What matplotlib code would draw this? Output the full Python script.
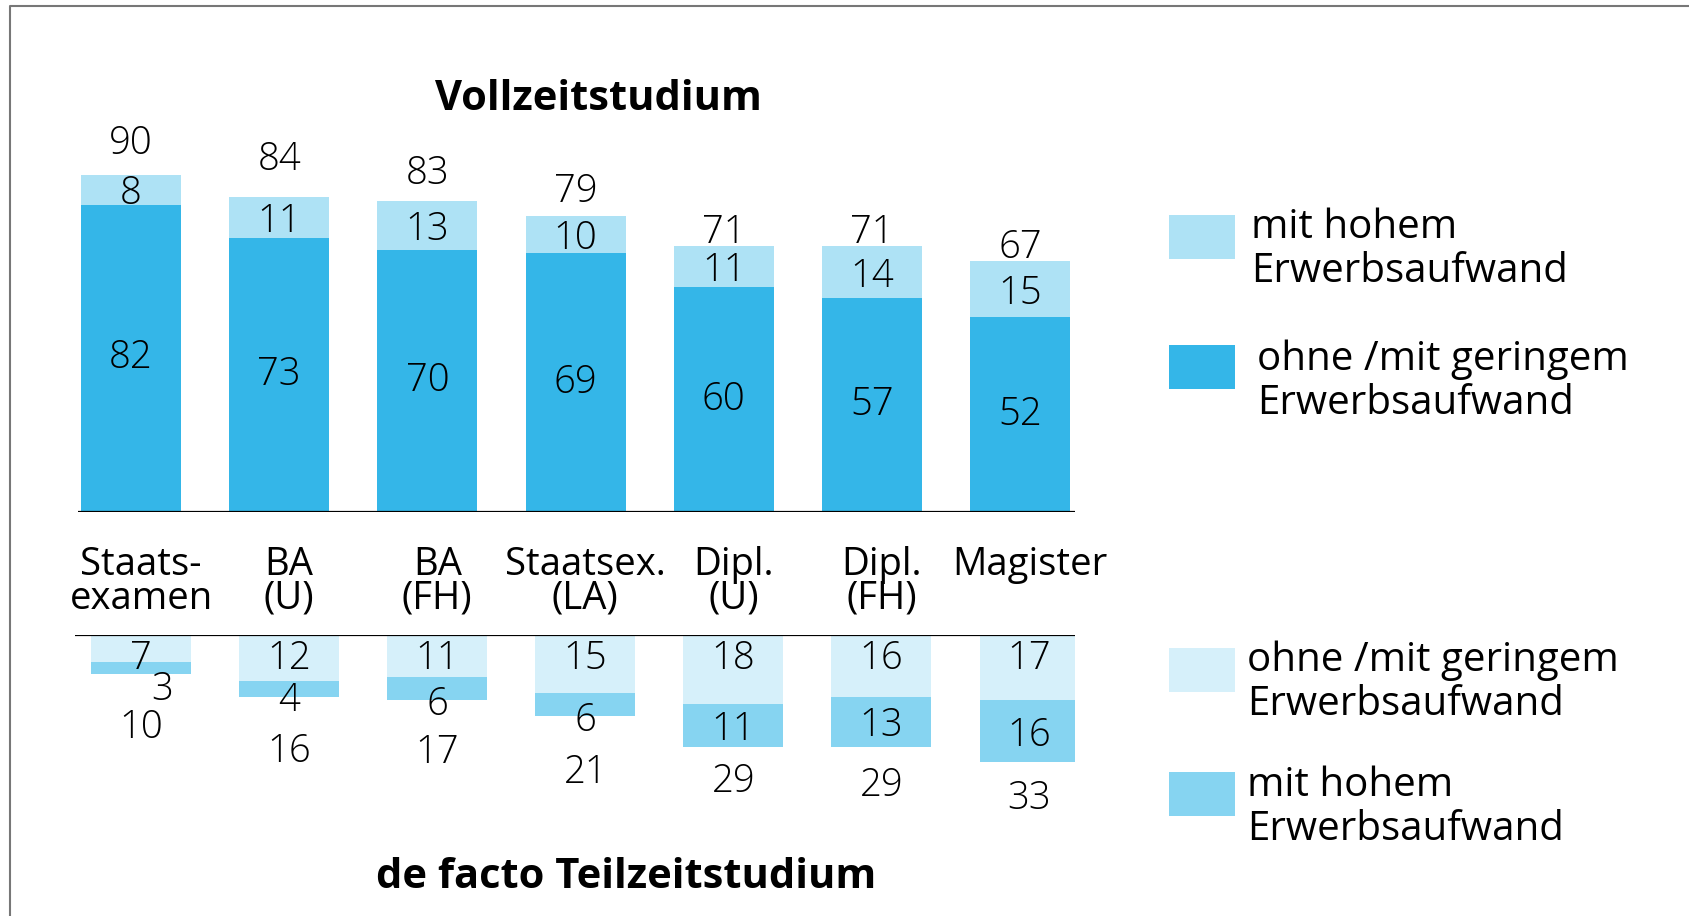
import matplotlib.pyplot as plt
from matplotlib.patches import Rectangle
from matplotlib.lines import Line2D
from matplotlib.transforms import offset_copy

categories = ["Staats-\nexamen", "BA\n(U)", "BA\n(FH)", "Staatsex.\n(LA)",
              "Dipl.\n(U)", "Dipl.\n(FH)", "Magister"]
voll_gering = [82, 73, 70, 69, 60, 57, 52]
voll_hoch = [8, 11, 13, 10, 11, 14, 15]
voll_total = [90, 84, 83, 79, 71, 71, 67]
teil_gering = [7, 12, 11, 15, 18, 16, 17]
teil_hoch = [3, 4, 6, 6, 11, 13, 16]
teil_total = [10, 16, 17, 21, 29, 29, 33]

W, H = 1690, 916
FONT = "Open Sans"
plt.rcParams['font.family'] = [FONT, 'DejaVu Sans']

c_dark = "#34b6e8"
c_light = "#aee2f5"
c_tlight = "#d6f0fa"
c_tdark = "#86d4f1"


def px_rect(left, top, width, height):
    return [left / W, 1 - (top + height) / H, width / W, height / H]


fig = plt.figure(figsize=(W / 100, H / 100), dpi=100)

# frame (top and left only visible)
fig.add_artist(Line2D([10 / W, 10 / W, 1], [0, 1 - 6 / H, 1 - 6 / H],
                      transform=fig.transFigure, color="#777777", lw=1.5))

x = list(range(len(categories)))
bw = 0.675
fs = 27.5
nw = 300  # value labels are set in a light cut
shift = -4.5  # matplotlib centres include descent, nudge digits down

# ---- Vollzeitstudium (upper) ----
ax1 = fig.add_axes(px_rect(78, 137, 997, 375))
ax1.set_xlim(-0.358, 6.371)
ax1.set_ylim(0, 100)
ax1.axis("off")
ax1.bar(x, voll_gering, width=bw, color=c_dark)
ax1.bar(x, voll_hoch, width=bw, bottom=voll_gering, color=c_light)
ax1.axhline(0, color="black", lw=1.6)
tr1 = offset_copy(ax1.transData, fig=fig, x=0, y=shift, units="dots")
top_off = [9.3, 11.2, 8.3, 7.7, 4.6, 4.6, 4.6]
for i in x:
    ax1.text(i, voll_gering[i] / 2, str(voll_gering[i]), ha="center", va="center",
             fontsize=fs, fontweight=nw)
    ax1.text(i, voll_gering[i] + voll_hoch[i] / 2, str(voll_hoch[i]), ha="center",
             va="center", fontsize=fs, fontweight=nw, transform=tr1)
    ax1.text(i, voll_total[i] + top_off[i], str(voll_total[i]), ha="center",
             va="center", fontsize=fs, fontweight=nw, transform=tr1)

# ---- de facto Teilzeitstudium (lower) ----
ax2 = fig.add_axes(px_rect(75, 635, 1000, 154))
ax2.set_xlim(-0.446, 6.307)
ax2.set_ylim(40, 0)
ax2.axis("off")
ax2.bar(x, teil_gering, width=bw, color=c_tlight)
ax2.bar(x, teil_hoch, width=bw, bottom=teil_gering, color=c_tdark)
ax2.axhline(0, color="black", lw=1.6)
tr2 = offset_copy(ax2.transData, fig=fig, x=0, y=shift, units="dots")
bot_off = [13.0, 13.2, 12.5, 13.5, 8.0, 9.1, 8.4]
for i in x:
    if "\n" in categories[i]:
        ax2.text(i, -15.0, categories[i], ha="center", va="center", fontsize=fs,
                 linespacing=0.87, transform=tr2)
    else:
        ax2.text(i, -19.4, categories[i], ha="center", va="center", fontsize=fs,
                 transform=tr2)
    ax2.text(i, 5.0, str(teil_gering[i]), ha="center", va="center", fontsize=fs,
             fontweight=nw, transform=tr2)
    if teil_hoch[i] >= 10:
        ydark = teil_gering[i] + teil_hoch[i] / 2
    else:
        ydark = teil_total[i]
    dx = 0
    if i == 0:
        ydark += 3.0
        dx = 0.14
    ax2.text(i + dx, ydark, str(teil_hoch[i]), ha="center", va="center", fontsize=fs,
             fontweight=nw, transform=tr2)
    ax2.text(i, teil_total[i] + bot_off[i], str(teil_total[i]), ha="center",
             va="center", fontsize=fs, fontweight=nw, transform=tr2)

# titles
fig.text(598 / W, 1 - 99 / H, "Vollzeitstudium", ha="center", va="center",
         fontsize=30, fontweight="bold")
fig.text(626 / W, 1 - 878 / H, "de facto Teilzeitstudium", ha="center", va="center",
         fontsize=30, fontweight="bold")

# legends
legend_items = [
    (215, c_light, "mit hohem\nErwerbsaufwand", 1251, 30),
    (345, c_dark, "ohne /mit geringem\nErwerbsaufwand", 1257, 32),
    (648, c_tlight, "ohne /mit geringem\nErwerbsaufwand", 1247, 30.5),
    (772, c_tdark, "mit hohem\nErwerbsaufwand", 1247, 31),
]
for top, col, label, tx, tdy in legend_items:
    fig.add_artist(Rectangle((1169 / W, 1 - (top + 44) / H), 66 / W, 44 / H,
                             transform=fig.transFigure, color=col, lw=0))
    fig.text(tx / W, 1 - (top + tdy + 4.5) / H, label, ha="left", va="center",
             fontsize=29, linespacing=1.12)

fig.savefig("out.png", dpi=100)
